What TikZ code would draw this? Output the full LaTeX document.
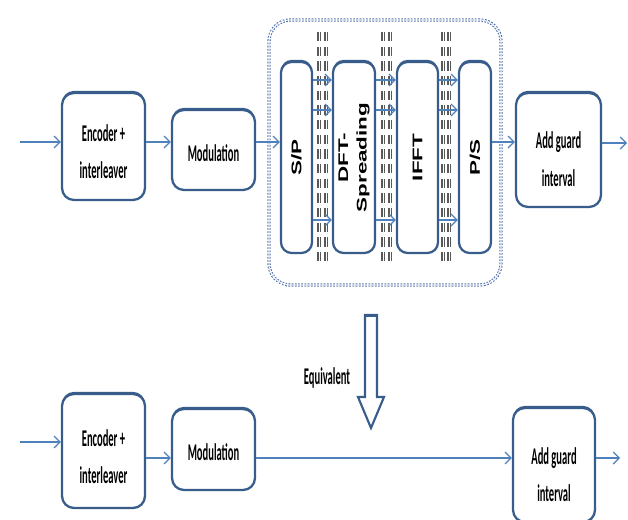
\documentclass[tikz,border=0pt]{standalone}
\usepackage{fontspec}
\usetikzlibrary{arrows.meta,shadows}
\newfontfamily\calfont[FakeStretch=0.44]{Carlito}
\newfontfamily\arbfont[FakeStretch=1.6]{Liberation Sans}
\definecolor{boxblue}{RGB}{56,93,138}
\definecolor{arrblue}{RGB}{79,129,189}
\definecolor{dotblue}{RGB}{79,110,170}
\tikzset{
  blk/.style={draw=boxblue, line width=1.7pt, fill=white, rounded corners=9pt,
    drop shadow={shadow xshift=0pt, shadow yshift=1.6pt, fill=boxblue, opacity=1},
    inner sep=0pt},
  btxt/.style={align=center, inner sep=0pt, yshift=-4pt,
    font={\calfont\bfseries\fontsize{18}{28}\selectfont}},
  vtxt/.style={rotate=90, align=center, font={\arbfont\bfseries\fontsize{10.5}{14}\selectfont}},
  flow/.style={draw=arrblue, line width=0.9pt, -{Straight Barb[length=4.5pt,width=9pt]}},
  dcol/.style={draw=black!65, line width=1pt, double=white, double distance=0.4pt, dash pattern=on 7pt off 4pt},
  grp/.style={draw=dotblue, line width=0.8pt, dash pattern=on 1.2pt off 1.2pt, double=white, double distance=0.9pt, rounded corners=16pt},
}
\begin{document}
\begin{tikzpicture}[x=0.75pt,y=-0.75pt]
\useasboundingbox (0,0) rectangle (628,520);
% group outline
\node[grp, minimum width=232*0.75pt, minimum height=265*0.75pt, inner sep=0pt] (grp) at (385,152.5) {};
% top row
\node[blk, minimum width=83*0.75pt, minimum height=107*0.75pt] (enc1) at (103.5,146.5) {};
\node[btxt] (tenc1) at (enc1.center) {Encoder +\\interleaver};
\node[blk, minimum width=83*0.75pt, minimum height=80*0.75pt] (mod1) at (213.5,150) {};
\node[btxt, yshift=2pt] (tmod1) at (mod1.center) {Modulation};
\node[blk, minimum width=31*0.75pt, minimum height=191*0.75pt, rounded corners=8pt] (sp) at (296.5,157.5) {};
\node[blk, minimum width=42*0.75pt, minimum height=191*0.75pt, rounded corners=8pt] (dft) at (354,157.5) {};
\node[blk, minimum width=41*0.75pt, minimum height=191*0.75pt, rounded corners=8pt] (ifft) at (417.5,157.5) {};
\node[blk, minimum width=32*0.75pt, minimum height=191*0.75pt, rounded corners=8pt] (ps) at (475,157.5) {};
\node[vtxt] (tsp) at (sp.center) {S/P};
\node[vtxt] (tdft) at (dft.center) {DFT-\\Spreading};
\node[vtxt] (tifft) at (ifft.center) {IFFT};
\node[vtxt] (tps) at (ps.center) {P/S};
\node[blk, minimum width=85*0.75pt, minimum height=114*0.75pt] (add1) at (558.5,150) {};
\node[btxt, yshift=-3pt] (tadd1) at (add1.center) {Add guard\\interval};
% dashed columns
\foreach \xa/\xb in {319/326, 383/390, 443/449} {
  \draw[dcol] (\xa,32) -- (\xa,266);
  \draw[dcol] (\xb,32) -- (\xb,266);
}
% top row connectors
\coordinate (in1) at (20,142);
\coordinate (out1) at (627,143);
\draw[flow] (in1) -- (in1 -| enc1.west);
\draw[flow] (enc1.east |- 0,142) -- (mod1.west |- 0,142);
\draw[flow] (mod1.east |- 0,142) -- (sp.west |- 0,142);
\foreach \y in {80,110,220} {
  \draw[flow] (sp.east |- 0,\y) -- (dft.west |- 0,\y);
  \draw[flow] (dft.east |- 0,\y) -- (ifft.west |- 0,\y);
  \draw[flow] (ifft.east |- 0,\y) -- (ps.west |- 0,\y);
}
\draw[flow] (ps.east |- 0,142) -- (add1.west |- 0,142);
\draw[flow] (add1.east |- out1) -- (out1);
% equivalent arrow
\draw[boxblue, line width=1.6pt, fill=white, line join=miter]
  (365,315) -- (377,315) -- (377,397) -- (384,397) -- (371,428) -- (358,397) -- (365,397) -- cycle;
\draw[boxblue, line width=2.4pt] (364.5,315.5) -- (377.5,315.5);
\node[font={\calfont\bfseries\fontsize{18}{28}\selectfont}] (eqv) at (327,378) {Equivalent};
% bottom row
\node[blk, minimum width=83*0.75pt, minimum height=114*0.75pt] (enc2) at (103.5,451) {};
\node[btxt] (tenc2) at (enc2.center) {Encoder +\\interleaver};
\node[blk, minimum width=83*0.75pt, minimum height=81*0.75pt] (mod2) at (213.5,449.5) {};
\node[btxt, yshift=2pt] (tmod2) at (mod2.center) {Modulation};
\node[blk, minimum width=82*0.75pt, minimum height=114*0.75pt] (add2) at (554,465) {};
\node[btxt, yshift=-3pt] (tadd2) at (add2.center) {Add guard\\interval};
\coordinate (in2) at (20,442);
\coordinate (out2) at (620,458);
\draw[flow] (in2) -- (in2 -| enc2.west);
\draw[flow] (enc2.east |- 0,458) -- (mod2.west |- 0,458);
\draw[flow] (mod2.east |- 0,458) -- (add2.west |- 0,458);
\draw[flow] (add2.east |- out2) -- (out2);
\end{tikzpicture}
\end{document}
